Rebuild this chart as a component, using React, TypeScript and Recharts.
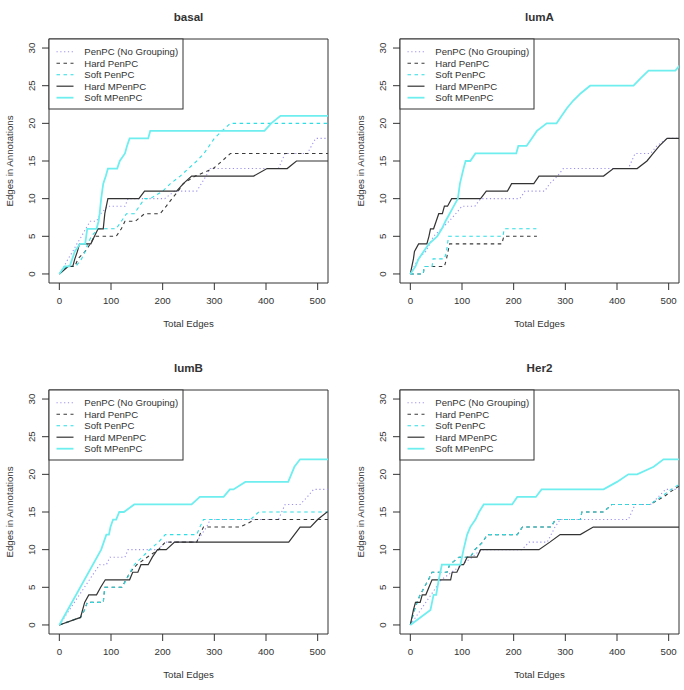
import React from "react";
import { Line, LineChart, ReferenceArea, XAxis, YAxis } from "recharts";

// Shared axis ticks and series names
const X_TICKS = [0, 100, 200, 300, 400, 500];
const Y_TICKS = [0, 5, 10, 15, 20, 25, 30];
const SERIES_NAMES = [
  "PenPC (No Grouping)",
  "Hard PenPC",
  "Soft PenPC",
  "Hard MPenPC",
  "Soft MPenPC",
];
const PANEL_TITLES = ["basal", "lumA", "lumB", "Her2"];

type Pt = [number, number];

// basal: [total edges, edges in annotations]
const basalNoGroup: Pt[] = [[0, 0], [9, 1], [17, 2], [26, 3], [34, 4], [43, 5], [51, 6], [60, 7], [72, 7], [80, 8], [94, 9], [127, 9], [133, 10], [204, 10], [223, 11], [266, 11], [275, 12], [284, 13], [292, 14], [424, 14], [437, 16], [480, 16], [496, 18], [520, 18]];
const basalHard: Pt[] = [[0, 0], [15, 1], [30, 1], [36, 2], [50, 3], [60, 4], [68, 5], [110, 5], [120, 6], [127, 7], [147, 7], [165, 8], [195, 8], [207, 9], [218, 10], [230, 11], [240, 12], [263, 13], [298, 14], [315, 15], [331, 16], [520, 16]];
const basalSoft: Pt[] = [[0, 0], [14, 1], [32, 1], [43, 2], [50, 3], [55, 4], [62, 5], [75, 6], [110, 6], [120, 7], [130, 8], [145, 8], [155, 9], [165, 10], [176, 10], [200, 11], [215, 12], [234, 13], [250, 14], [266, 15], [280, 16], [290, 17], [300, 18], [315, 19], [331, 20], [520, 20]];
const basalHardM: Pt[] = [[0, 0], [17, 1], [26, 1], [30, 2], [35, 3], [39, 4], [61, 4], [68, 5], [75, 6], [85, 6], [88, 8], [94, 10], [154, 10], [165, 11], [227, 11], [240, 12], [256, 13], [376, 13], [402, 14], [441, 14], [459, 15], [520, 15]];
const basalSoftM: Pt[] = [[0, 0], [10, 1], [20, 1], [30, 3], [40, 4], [50, 4], [54, 6], [72, 6], [76, 7], [78, 8], [81, 10], [85, 12], [90, 13], [94, 14], [112, 14], [117, 15], [127, 16], [131, 17], [136, 18], [172, 18], [176, 19], [397, 19], [410, 20], [428, 21], [520, 21]];

// lumA
const lumANoGroup: Pt[] = [[0, 0], [15, 2], [30, 3], [45, 5], [60, 6], [75, 7], [88, 8], [100, 9], [125, 9], [136, 10], [212, 10], [222, 11], [260, 11], [270, 12], [285, 13], [296, 14], [422, 14], [435, 16], [465, 16], [477, 17], [497, 18], [520, 18]];
const lumAHard: Pt[] = [[0, 0], [25, 0], [27, 1], [66, 1], [70, 2], [73, 3], [76, 4], [177, 4], [181, 5], [245, 5]];
const lumASoft: Pt[] = [[0, 0], [25, 0], [27, 1], [42, 1], [44, 2], [66, 2], [70, 3], [72, 4], [74, 5], [179, 5], [182, 6], [244, 6]];
const lumAHardM: Pt[] = [[0, 0], [3, 1], [6, 2], [8, 3], [16, 4], [32, 4], [36, 5], [39, 6], [45, 6], [50, 7], [55, 8], [62, 8], [66, 9], [72, 9], [80, 10], [136, 10], [147, 11], [188, 11], [196, 12], [239, 12], [249, 13], [374, 13], [393, 14], [439, 14], [458, 15], [470, 16], [482, 17], [497, 18], [520, 18]];
const lumASoftM: Pt[] = [[0, 0], [10, 1], [16, 2], [26, 3], [36, 4], [52, 5], [61, 6], [68, 7], [76, 8], [84, 9], [92, 10], [96, 12], [103, 14], [107, 15], [116, 15], [126, 16], [205, 16], [209, 17], [225, 17], [235, 18], [245, 19], [264, 20], [283, 20], [293, 21], [303, 22], [315, 23], [330, 24], [348, 25], [432, 25], [446, 26], [461, 27], [513, 27], [525, 28]];

// lumB
const lumBNoGroup: Pt[] = [[0, 0], [68, 7], [78, 8], [91, 8], [98, 9], [127, 9], [133, 10], [191, 10], [205, 11], [265, 11], [275, 12], [285, 13], [292, 14], [424, 14], [437, 16], [466, 16], [480, 17], [492, 18], [520, 18]];
const lumBHard: Pt[] = [[0, 0], [41, 1], [49, 2], [54, 3], [85, 3], [88, 5], [121, 5], [137, 7], [150, 8], [170, 9], [192, 10], [205, 11], [266, 11], [272, 12], [279, 13], [350, 13], [379, 14], [520, 14]];
const lumBSoft: Pt[] = [[0, 0], [41, 1], [49, 2], [54, 3], [85, 3], [88, 5], [121, 5], [130, 6], [137, 7], [145, 8], [160, 9], [175, 10], [192, 11], [205, 12], [266, 12], [272, 13], [279, 14], [370, 14], [386, 15], [520, 15]];
const lumBHardM: Pt[] = [[0, 0], [41, 1], [49, 3], [57, 4], [72, 4], [80, 5], [89, 6], [136, 6], [142, 7], [152, 7], [158, 8], [172, 8], [180, 9], [190, 10], [207, 10], [223, 11], [444, 11], [455, 12], [466, 13], [486, 13], [500, 14], [518, 15], [520, 15]];
const lumBSoftM: Pt[] = [[0, 0], [81, 10], [86, 11], [91, 12], [96, 12], [99, 13], [104, 14], [110, 14], [116, 15], [125, 15], [145, 16], [256, 16], [272, 17], [318, 17], [330, 18], [337, 18], [360, 19], [443, 19], [455, 21], [466, 22], [520, 22]];

// Her2
const her2NoGroup: Pt[] = [[0, 0], [20, 2], [40, 4], [60, 6], [80, 7], [100, 8], [120, 9], [136, 10], [216, 10], [230, 11], [265, 11], [280, 13], [290, 14], [422, 14], [435, 16], [465, 16], [480, 17], [494, 18], [520, 18]];
const her2Hard: Pt[] = [[0, 0], [4, 1], [8, 2], [13, 3], [19, 4], [27, 5], [35, 6], [42, 7], [71, 7], [76, 8], [94, 9], [116, 9], [125, 10], [140, 11], [149, 12], [207, 12], [217, 13], [272, 13], [281, 14], [329, 14], [332, 15], [374, 15], [390, 16], [464, 16], [490, 17], [510, 18], [533, 19]];
const her2Soft: Pt[] = [[0, 0], [4, 1], [8, 2], [13, 3], [19, 4], [27, 5], [35, 6], [42, 7], [71, 7], [76, 8], [94, 9], [116, 9], [125, 10], [140, 11], [149, 12], [207, 12], [217, 13], [272, 13], [281, 14], [329, 14], [332, 15], [374, 15], [390, 16], [464, 16], [485, 17], [505, 18], [528, 19]];
const her2HardM: Pt[] = [[0, 0], [3, 1], [6, 2], [10, 3], [19, 3], [23, 4], [30, 4], [36, 5], [42, 6], [78, 6], [81, 7], [90, 7], [97, 8], [103, 8], [110, 9], [129, 9], [136, 10], [249, 10], [270, 11], [290, 12], [329, 12], [354, 13], [520, 13]];
const her2SoftM: Pt[] = [[0, 0], [39, 2], [42, 3], [45, 4], [50, 4], [55, 6], [61, 8], [97, 8], [103, 10], [110, 12], [116, 13], [126, 14], [133, 15], [142, 16], [197, 16], [207, 17], [243, 17], [254, 18], [374, 18], [400, 19], [422, 20], [439, 20], [471, 21], [490, 22], [520, 22]];

const PANELS: Pt[][][] = [
  [basalNoGroup, basalHard, basalSoft, basalHardM, basalSoftM],
  [lumANoGroup, lumAHard, lumASoft, lumAHardM, lumASoftM],
  [lumBNoGroup, lumBHard, lumBSoft, lumBHardM, lumBSoftM],
  [her2NoGroup, her2Hard, her2Soft, her2HardM, her2SoftM],
];

const STYLES = [
  { stroke: "#9c90ee", width: 1.1, dash: "1.2 2.6" },
  { stroke: "#3a3a3a", width: 1.1, dash: "3.5 3.5" },
  { stroke: "#2fdde4", width: 1.1, dash: "3.5 3.5" },
  { stroke: "#333333", width: 1.2, dash: undefined },
  { stroke: "#6feef0", width: 1.8, dash: undefined },
];

const FONT = '"Liberation Sans", Arial, Helvetica, sans-serif';
const INK = "#333";
const W = 333;
const H = 339;
const M = { top: 39, right: 5, left: 0, bottom: 0 };
const Y_AXIS_W = 49;
const X_AXIS_H = 56;
const PLOT_CX = Y_AXIS_W + (W - Y_AXIS_W - M.right) / 2;
const PLOT_CY = M.top + (H - M.top - X_AXIS_H) / 2;

const YTick = (props: any) => {
  const { x, y, payload } = props;
  return (
    <text
      x={x}
      y={y}
      dy="0.35em"
      transform={`rotate(-90 ${x} ${y})`}
      textAnchor="middle"
      fontSize={9.7}
      fontFamily={FONT}
      fill={INK}
    >
      {payload.value}
    </text>
  );
};

function PanelLegend() {
  const rowY = (i: number) => 51.7 + i * 11.5;
  return (
    <g>
      <rect x={49} y={39} width={134} height={70} fill="#fff" stroke={INK} strokeWidth={1} />
      {SERIES_NAMES.map((name, i) => (
        <g key={name}>
          <line
            x1={56.5}
            x2={73.5}
            y1={rowY(i)}
            y2={rowY(i)}
            stroke={STYLES[i].stroke}
            strokeWidth={STYLES[i].width}
            strokeDasharray={STYLES[i].dash}
          />
          <text x={84.3} y={rowY(i)} dy="0.35em" fontSize={9.6} fontFamily={FONT} fill={INK}>
            {name}
          </text>
        </g>
      ))}
    </g>
  );
}

function Panel({ title, series }: { title: string; series: Pt[][] }) {
  return (
    <div style={{ position: "relative", width: W, height: H }}>
      <LineChart width={W} height={H} margin={M}>
        <XAxis
          type="number"
          dataKey="x"
          domain={[-20, 520]}
          ticks={X_TICKS}
          allowDataOverflow
          height={X_AXIS_H}
          axisLine={false}
          tickLine={{ stroke: INK }}
          tickSize={7}
          tickMargin={7.5}
          tick={{ fontSize: 9.7, fontFamily: FONT, fill: INK }}
        />
        <YAxis
          type="number"
          dataKey="y"
          domain={[-1.2, 31.2]}
          ticks={Y_TICKS}
          allowDataOverflow
          width={Y_AXIS_W}
          axisLine={false}
          tickLine={{ stroke: INK }}
          tickSize={7}
          tickMargin={10}
          tick={<YTick />}
        />
        <ReferenceArea
          x1={-20}
          x2={520}
          y1={-1.2}
          y2={31.2}
          fill="none"
          fillOpacity={0}
          stroke={INK}
          strokeWidth={1}
          ifOverflow="visible"
        />
        {series.map((pts, i) => (
          <Line
            key={SERIES_NAMES[i]}
            data={pts.map(([x, y]) => ({ x, y }))}
            dataKey="y"
            type="linear"
            stroke={STYLES[i].stroke}
            strokeWidth={STYLES[i].width}
            strokeDasharray={STYLES[i].dash}
            dot={false}
            activeDot={false}
            isAnimationActive={false}
          />
        ))}
      </LineChart>
      <svg
        width={W}
        height={H}
        style={{ position: "absolute", left: 0, top: 0, pointerEvents: "none" }}
      >
        <text
          x={PLOT_CX}
          y={17}
          dy="0.35em"
          textAnchor="middle"
          fontSize={11.6}
          fontWeight="bold"
          fontFamily={FONT}
          fill={INK}
        >
          {title}
        </text>
        <text
          x={PLOT_CX}
          y={324}
          dy="0.35em"
          textAnchor="middle"
          fontSize={9.7}
          fontFamily={FONT}
          fill={INK}
        >
          Total Edges
        </text>
        <text
          x={9.5}
          y={PLOT_CY}
          dy="0.35em"
          transform={`rotate(-90 9.5 ${PLOT_CY})`}
          textAnchor="middle"
          fontSize={9.7}
          fontFamily={FONT}
          fill={INK}
        >
          Edges in Annotations
        </text>
        <PanelLegend />
      </svg>
    </div>
  );
}

export default function App() {
  return (
    <div
      style={{
        position: "absolute",
        left: 0,
        top: 0,
        width: 684,
        height: 690,
        background: "#fff",
        overflow: "hidden",
      }}
    >
      {PANEL_TITLES.map((title, i) => (
        <div
          key={title}
          style={{
            position: "absolute",
            left: (i % 2) * 351,
            top: Math.floor(i / 2) * 351,
          }}
        >
          <Panel title={title} series={PANELS[i]} />
        </div>
      ))}
    </div>
  );
}
